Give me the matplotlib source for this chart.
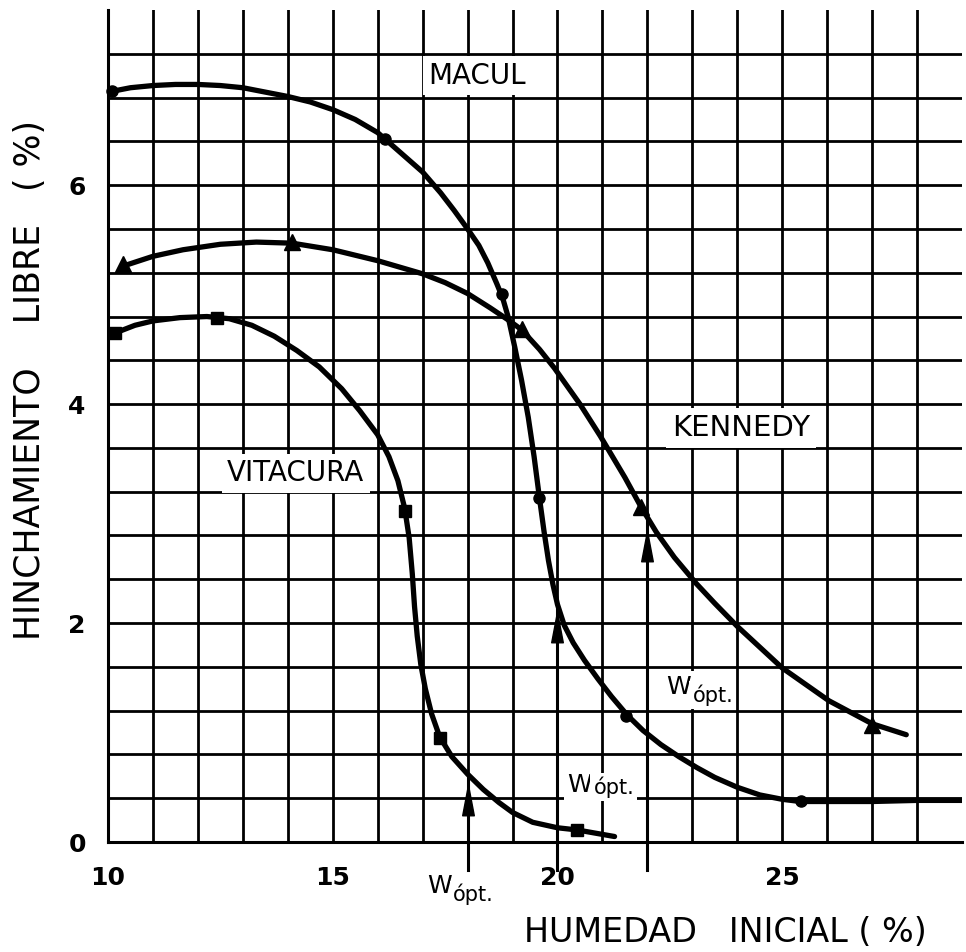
"""Free swelling vs initial moisture for three soils (scanned chart recreation)."""

import numpy as np
import matplotlib.pyplot as plt
from matplotlib.path import Path

# --- smooth curves (x = humedad inicial %, y = hinchamiento %) ---
maculCurveX = [10.0, 10.5, 11.0, 11.5, 12.0, 12.5, 13.0, 13.5, 14.0, 14.5, 15.0, 15.5, 16.0,
               16.5, 17.0, 17.4, 17.7, 18.0, 18.25, 18.45, 18.65, 18.78, 18.9, 19.05, 19.2,
               19.35, 19.48, 19.6, 19.7, 19.8, 19.9, 20.0, 20.15, 20.35, 20.6, 20.9, 21.2,
               21.55, 21.9, 22.3, 22.7, 23.1, 23.5, 24.0, 24.5, 25.0, 25.4, 26.0, 27.0, 28.0,
               29.0]
maculCurveY = [6.85, 6.89, 6.91, 6.92, 6.92, 6.91, 6.89, 6.85, 6.81, 6.76, 6.69, 6.60, 6.48,
               6.30, 6.12, 5.93, 5.77, 5.60, 5.45, 5.29, 5.10, 4.97, 4.80, 4.52, 4.22,
               3.88, 3.52, 3.14, 2.84, 2.57, 2.35, 2.17, 1.98, 1.82, 1.66, 1.49, 1.33,
               1.16, 1.02, 0.89, 0.78, 0.68, 0.59, 0.50, 0.43, 0.39, 0.37, 0.37, 0.37, 0.38,
               0.38]

kennedyCurveX = [10.33, 11.0, 11.67, 12.5, 13.3, 14.1, 15.0, 16.0, 17.0, 17.5, 18.0, 18.5,
                 18.9, 19.2, 19.6, 19.93, 20.5, 20.95, 21.5, 21.86, 22.2, 22.6, 23.09, 23.5,
                 24.0, 25.0, 26.04, 27.0, 27.76]
kennedyCurveY = [5.26, 5.35, 5.41, 5.46, 5.48, 5.47, 5.41, 5.31, 5.19, 5.11, 5.01, 4.88,
                 4.77, 4.68, 4.50, 4.33, 4.00, 3.71, 3.33, 3.06, 2.83, 2.60, 2.36, 2.18,
                 1.97, 1.59, 1.29, 1.08, 0.98]

vitacuraCurveX = [10.16, 10.6, 11.0, 11.6, 12.2, 12.7, 13.2, 13.7, 14.2, 14.7, 15.2, 15.6,
                  16.0, 16.25, 16.45, 16.6, 16.7, 16.77, 16.82, 16.88, 16.96, 17.06, 17.2,
                  17.38, 17.65, 18.0, 18.35, 18.7, 19.0, 19.45, 20.0, 20.44, 21.27]
vitacuraCurveY = [4.65, 4.72, 4.76, 4.79, 4.80, 4.78, 4.72, 4.62, 4.49, 4.34, 4.14, 3.94,
                  3.72, 3.52, 3.30, 3.05, 2.78, 2.45, 2.15, 1.88, 1.62, 1.40, 1.17,
                  0.96, 0.78, 0.62, 0.48, 0.36, 0.27, 0.18, 0.13, 0.11, 0.05]

# --- measured points (markers) ---
maculPointsX = [10.1, 16.16, 18.76, 19.6, 21.53, 25.42]
maculPointsY = [6.86, 6.42, 5.01, 3.14, 1.15, 0.37]
kennedyPointsX = [10.33, 14.09, 19.2, 21.86, 27.0]
kennedyPointsY = [5.28, 5.48, 4.69, 3.06, 1.07]
vitacuraPointsX = [10.16, 12.42, 16.6, 17.38, 20.44]
vitacuraPointsY = [4.65, 4.79, 3.02, 0.95, 0.11]

# --- optimum moisture arrows (Vitacura, Macul, Kennedy) ---
arrowX = [18.0, 20.0, 22.0]
arrowTopY = [0.62, 2.17, 2.95]
arrowHeadY = [0.38, 1.96, 2.70]

xTicks = [10, 15, 20, 25]
xTickLabels = ['10', '15', '20', '25']
yTicks = [0, 2, 4, 6]
yTickLabels = ['0', '2', '4', '6']
xGrid = list(range(10, 29))
yGrid = np.round(np.arange(0, 7.3, 0.4), 1)

plt.rcParams['font.family'] = ['DejaVu Sans']

fig = plt.figure(figsize=(9.66, 9.52), dpi=100)
ax = fig.add_axes([108 / 966, 1 - 842 / 952, (962 - 108) / 966, (842 - 10) / 952])
ax.set_xlim(10, 29)
ax.set_ylim(0, 7.6)

# graph-paper grid
ax.set_xticks(xTicks)
ax.set_xticklabels(xTickLabels)
ax.set_xticks(xGrid, minor=True)
ax.set_yticks(yTicks)
ax.set_yticklabels(yTickLabels)
ax.set_yticks(yGrid, minor=True)
ax.set_axisbelow(True)
ax.grid(which='both', color='black', linewidth=2.0)
ax.tick_params(which='both', length=0)
ax.tick_params(axis='x', pad=17, labelsize=18)
ax.tick_params(axis='y', pad=16, labelsize=18)
for lbl in ax.get_xticklabels() + ax.get_yticklabels():
    lbl.set_fontweight('bold')
for side in ('top', 'right'):
    ax.spines[side].set_visible(False)
for side in ('left', 'bottom'):
    ax.spines[side].set_linewidth(2.2)

# curves
curveStyle = dict(color='black', linewidth=3.8, solid_capstyle='round',
                  solid_joinstyle='round', zorder=4)
ax.plot(maculCurveX, maculCurveY, **curveStyle)
ax.plot(kennedyCurveX, kennedyCurveY, **curveStyle)
ax.plot(vitacuraCurveX, vitacuraCurveY, **curveStyle)

ax.plot(maculPointsX, maculPointsY, 'o', color='black', markersize=8, zorder=5, clip_on=False)
ax.plot(kennedyPointsX, kennedyPointsY, '^', color='black', markersize=11, zorder=5, clip_on=False)
ax.plot(vitacuraPointsX, vitacuraPointsY, 's', color='black', markersize=9, zorder=5, clip_on=False)

# arrows pointing up to the optimum moisture
headMarker = Path([(0, 1), (0.38, -1), (-0.38, -1), (0, 1)],
                  [Path.MOVETO, Path.LINETO, Path.LINETO, Path.CLOSEPOLY])
for x, top, head in zip(arrowX, arrowTopY, arrowHeadY):
    ax.plot([x, x], [-0.26, top], color='black', linewidth=2.2, zorder=4, clip_on=False)
    ax.plot([x], [head], marker=headMarker, markersize=22, color='black', zorder=5)

# curve names
labelBox = dict(boxstyle='square,pad=0.2', facecolor='white', edgecolor='none')
ax.text(18.22, 7.0, 'MACUL', fontsize=20, ha='center', va='center', bbox=labelBox, zorder=3)
ax.text(24.09, 3.78, 'KENNEDY', fontsize=21, ha='center', va='center', bbox=labelBox, zorder=3)
ax.text(14.18, 3.37, 'VITACURA', fontsize=20, ha='center', va='center', bbox=labelBox, zorder=3)


def drawWopt(ax, x, y, subDrop):
    """Write 'W' with a lowered 'ópt.' next to it."""
    box = dict(boxstyle='square,pad=0.15', facecolor='white', edgecolor='none')
    wText = ax.text(x, y, 'W', fontsize=18, ha='left', va='baseline', bbox=box,
                    zorder=3, clip_on=False)
    ax.annotate('ópt.', xy=(1, 0), xycoords=wText, xytext=(1, subDrop),
                textcoords='offset points', fontsize=15, ha='left', va='baseline',
                bbox=box, zorder=3, annotation_clip=False)


drawWopt(ax, 17.09, -0.47, -2)
drawWopt(ax, 20.22, 0.46, 2)
drawWopt(ax, 22.42, 1.35, -2)

fig.text(725 / 966, 1 - 933 / 952, 'HUMEDAD   INICIAL ( %)', fontsize=24,
         ha='center', va='center')
fig.text(30 / 966, 1 - 380 / 952, 'HINCHAMIENTO    LIBRE   ( %)', fontsize=25,
         ha='center', va='center', rotation=90)

fig.savefig('out.png', dpi=100, facecolor='white')
